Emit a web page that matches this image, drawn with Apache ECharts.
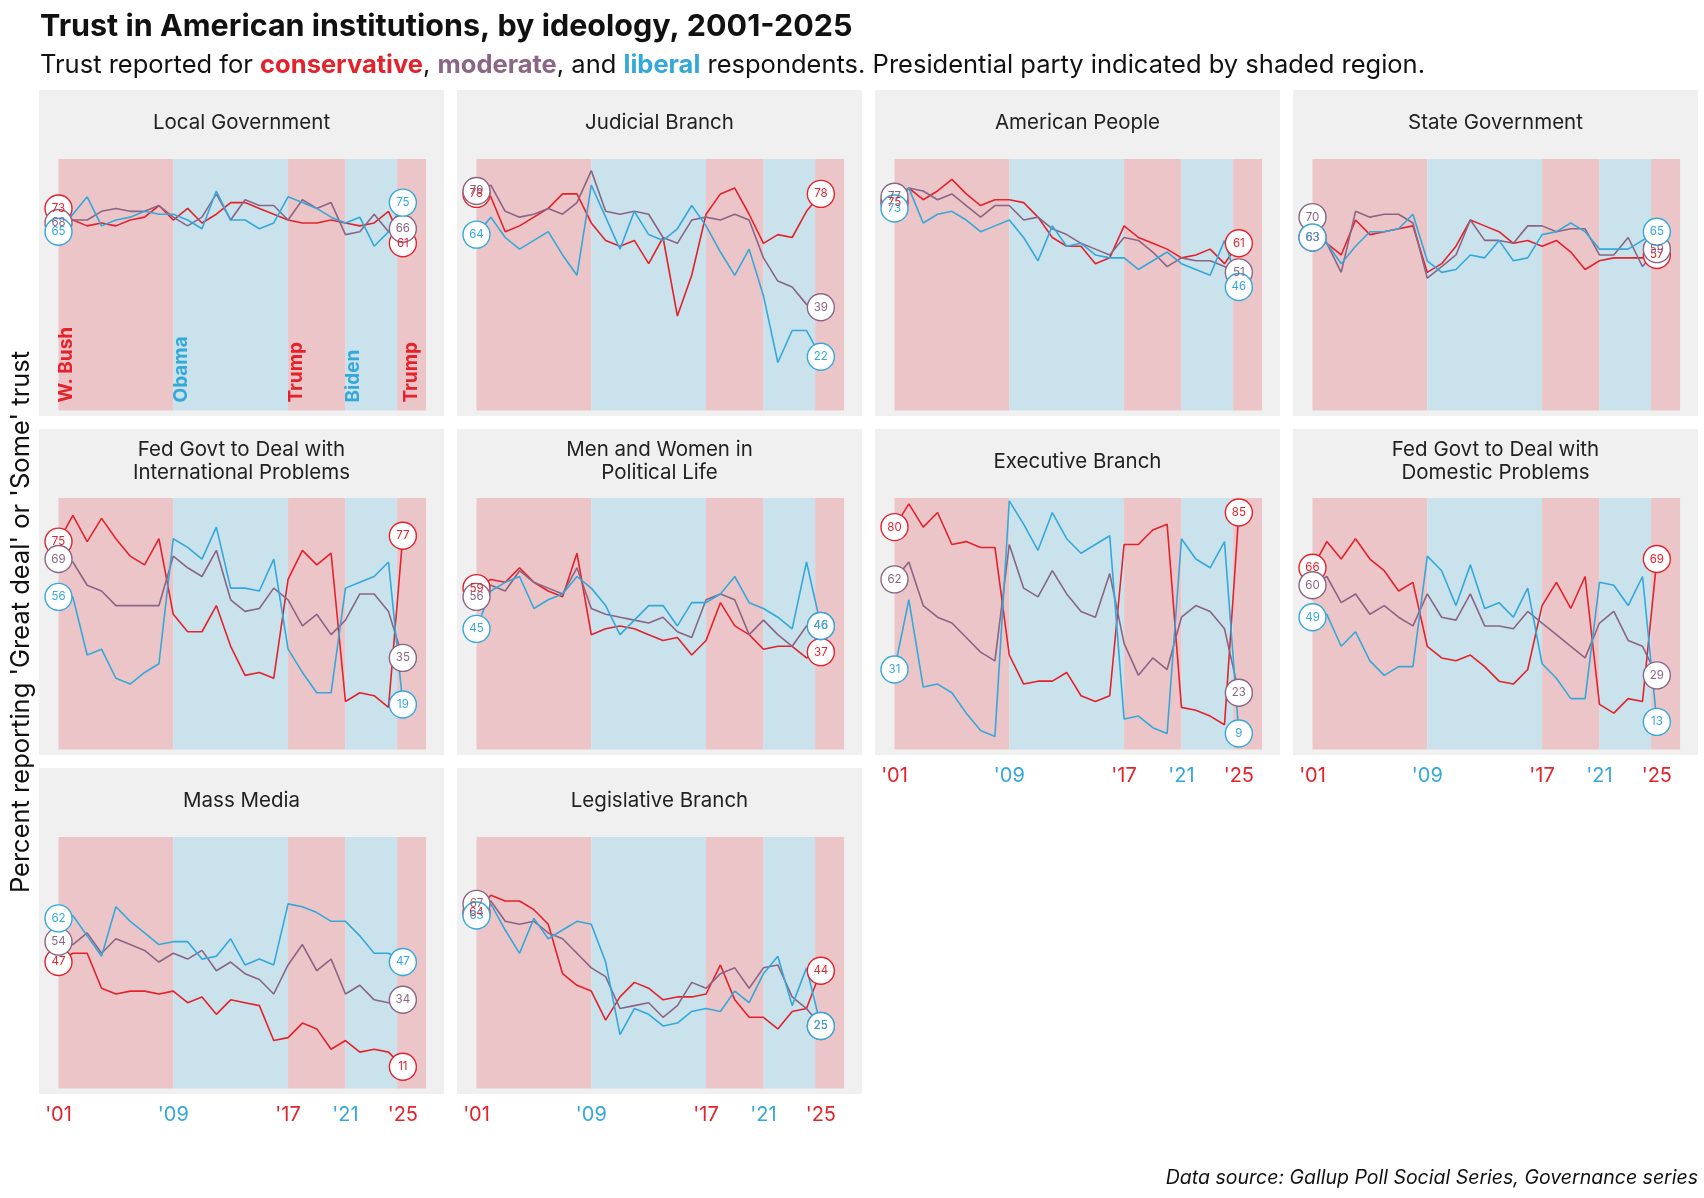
<!DOCTYPE html>
<html><head><meta charset="utf-8">
<script src="https://cdn.jsdelivr.net/npm/echarts@6/dist/echarts.min.js"></script>
<style>html,body{margin:0;padding:0;background:#fff}#c{width:1704px;height:1198px}</style>
</head><body><div id="c"></div>
<script>
// ---------- DATA ----------
const years = [2001,2002,2003,2004,2005,2006,2007,2008,2009,2010,2011,2012,2013,2014,2015,2016,2017,2018,2019,2020,2021,2022,2023,2024,2025];
const presidents = ['W. Bush','Obama','Trump','Biden','Trump'];
const presidentLabelYear = [2001,2009,2017,2021,2025];
const termStart = [2001,2009,2017,2021,2024.6];
const termEnd = [2009,2017,2021,2024.6,2026.62];
const termParty = ['R','D','R','D','R'];
const tickYears = [2001,2009,2017,2021,2025];
const tickLabels = ["'01","'09","'17","'21","'25"];
const tickParty = ['R','D','R','D','R'];

const localGov_con = [73,69,67,68,67,69,70,74,69,73,68,71,75,75,73,71,69,68,68,69,68,67,68,72,61];
const localGov_mod = [68,69,69,72,73,72,72,74,70,67,70,78,69,76,74,74,69,76,73,75,64,65,71,65,66];
const localGov_lib = [65,71,77,67,69,70,72,71,71,69,66,79,69,69,66,68,77,75,73,70,68,70,60,65,75];

const judicial_con = [78,77,65,67,70,73,78,78,68,62,60,62,54,63,36,50,71,78,80,71,61,64,63,72,78];
const judicial_mod = [79,81,72,70,71,73,71,75,86,72,71,72,71,63,61,69,70,69,71,69,56,48,46,40,39];
const judicial_lib = [64,70,63,59,62,65,57,50,81,70,59,72,64,62,66,74,67,58,50,59,43,20,31,31,22];

const people_con = [75,80,76,79,83,78,74,76,76,75,70,63,60,60,54,56,67,63,61,59,56,57,59,54,61];
const people_mod = [77,80,79,76,78,74,70,74,74,69,70,66,64,61,59,57,63,62,58,53,56,55,55,53,51];
const people_lib = [73,80,68,71,72,69,65,67,69,63,55,67,60,61,57,56,56,52,55,58,54,52,50,62,46];

const stateGov_con = [63,61,57,69,64,65,66,67,51,54,60,69,67,65,61,62,60,62,58,52,55,56,56,56,57];
const stateGov_mod = [70,61,51,72,70,71,71,68,49,53,57,69,62,62,61,67,67,65,66,66,57,57,63,53,59];
const stateGov_lib = [63,61,54,60,65,65,66,71,55,51,52,57,56,62,55,56,64,65,68,65,59,59,59,62,65];

const intl_con = [75,84,75,83,76,70,67,76,50,44,44,53,39,29,30,28,62,72,67,71,20,23,22,18,77];
const intl_mod = [69,68,60,58,53,53,53,53,70,66,63,72,55,51,52,59,55,46,50,43,48,57,57,51,35];
const intl_lib = [56,56,36,38,28,26,30,33,76,73,69,80,59,59,58,69,38,30,23,23,59,61,63,68,19];

const menWomen_con = [59,62,61,66,61,58,56,71,43,45,46,45,43,41,42,36,41,54,46,43,38,39,39,35,37];
const menWomen_mod = [56,60,58,65,61,59,57,66,52,50,49,48,47,49,44,42,55,57,55,43,48,43,39,46,46];
const menWomen_lib = [45,58,61,63,52,55,57,63,59,53,43,48,53,53,46,54,54,57,63,54,52,49,45,68,46];

const exec_con = [80,88,80,85,74,75,73,73,36,26,27,27,30,22,20,22,74,74,79,81,18,17,15,12,85];
const exec_mod = [62,68,53,49,47,42,37,34,74,59,56,65,57,51,49,64,40,29,35,31,49,53,51,45,23];
const exec_lib = [31,55,25,26,23,16,10,8,89,81,72,85,76,71,74,77,14,15,11,9,76,69,66,75,9];

const domestic_con = [66,75,69,76,69,65,58,61,39,35,34,36,32,27,26,31,53,61,52,63,19,16,21,20,69];
const domestic_mod = [60,63,54,57,50,53,49,46,57,49,48,57,46,46,45,51,47,43,39,35,47,51,41,39,29];
const domestic_lib = [49,50,39,44,34,29,32,32,70,65,53,67,52,54,49,59,33,28,21,21,61,60,53,63,13];

const media_con = [47,50,50,38,36,37,37,36,37,33,35,29,34,33,32,20,21,26,24,17,20,16,17,16,11];
const media_mod = [54,53,57,50,55,53,51,47,50,48,51,44,47,43,41,36,46,53,44,48,36,39,34,33,34];
const media_lib = [62,63,56,49,66,61,57,53,54,54,48,49,55,46,48,46,67,66,64,61,61,56,50,50,47];

const legis_con = [64,70,68,68,65,60,43,39,37,27,35,40,38,34,35,35,36,46,34,28,28,24,30,31,44];
const legis_mod = [67,68,61,60,61,57,55,50,45,42,31,32,33,28,32,40,38,43,45,38,45,46,35,31,25];
const legis_lib = [63,67,58,50,62,55,58,61,60,47,22,31,29,25,26,30,31,30,37,33,43,49,32,45,25];

const panelTitles = ['Local Government','Judicial Branch','American People','State Government',
  'Fed Govt to Deal with\nInternational Problems','Men and Women in\nPolitical Life','Executive Branch','Fed Govt to Deal with\nDomestic Problems',
  'Mass Media','Legislative Branch'];
const panelCon = [localGov_con,judicial_con,people_con,stateGov_con,intl_con,menWomen_con,exec_con,domestic_con,media_con,legis_con];
const panelMod = [localGov_mod,judicial_mod,people_mod,stateGov_mod,intl_mod,menWomen_mod,exec_mod,domestic_mod,media_mod,legis_mod];
const panelLib = [localGov_lib,judicial_lib,people_lib,stateGov_lib,intl_lib,menWomen_lib,exec_lib,domestic_lib,media_lib,legis_lib];
const bottomAxisPanels = [6,7,8,9];

// ---------- STYLE ----------
const FONT = 'Inter, Roboto, sans-serif';
const RED = '#e3222b', PURPLE = '#8a6585', BLUE = '#35a8da';
const SHADE_R = '#ecc5c8', SHADE_D = '#c9e2ec', PANEL_BG = '#f0f0f0';
const colLeft = [39, 457, 875, 1293];
const rowTop = [90, 429, 768];
const PW = 405, PH = 326;
const Y_MIN = 3.5, Y_MAX = 90, X_MIN = 2001, X_MAX = 2026.62;

const grids = [], xAxes = [], yAxes = [], series = [], titles = [], graphics = [];

titles.push({text:'Trust in American institutions, by ideology, 2001-2025', left:40, top:11, padding:0,
  textStyle:{fontFamily:FONT, fontWeight:'bold', fontSize:30.5, color:'#111'}});
titles.push({text:'Trust reported for {r|conservative}, {p|moderate}, and {b|liberal} respondents. Presidential party indicated by shaded region.',
  left:40, top:52, padding:0, textStyle:{fontFamily:FONT, fontSize:25.5, fontWeight:'normal', color:'#111',
  rich:{r:{color:RED,fontWeight:'bold',fontSize:25.5,fontFamily:FONT}, p:{color:PURPLE,fontWeight:'bold',fontSize:25.5,fontFamily:FONT}, b:{color:BLUE,fontWeight:'bold',fontSize:25.5,fontFamily:FONT}}}});
titles.push({text:'Data source: Gallup Poll Social Series, Governance series', right:6, top:1168, padding:0,
  textStyle:{fontFamily:FONT, fontStyle:'italic', fontSize:19.5, color:'#111', fontWeight:'normal'}});

graphics.push({type:'text', x:21, y:622, rotation:Math.PI/2, silent:true,
  style:{text:"Percent reporting 'Great deal' or 'Some' trust", font:'25.5px Inter, Roboto, sans-serif', fill:'#111', align:'center', verticalAlign:'middle'}});

const ideo = [
  {arr:panelCon, color:RED},
  {arr:panelMod, color:PURPLE},
  {arr:panelLib, color:BLUE}
];

panelTitles.forEach((t, i) => {
  const row = Math.floor(i/4), col = i%4;
  const pl = colLeft[col], pt = rowTop[row];
  graphics.push({type:'rect', shape:{x:pl, y:pt, width:PW, height:PH}, style:{fill:PANEL_BG}, z:-10, silent:true});
  const twoLine = t.indexOf('\n') >= 0;
  titles.push({text:t, left: pl + PW/2, top: pt + (twoLine ? 9 : 21), textAlign:'center', padding:0,
    textStyle:{fontFamily:FONT, fontSize:20.5, fontWeight:'normal', color:'#222', lineHeight:23}});
  grids.push({left: pl + 19.5, top: pt + 69, width: 367.6, height: 251.5});
  const bottom = bottomAxisPanels.indexOf(i) >= 0;
  xAxes.push({gridIndex:i, type:'value', min:X_MIN, max:X_MAX,
    axisLine:{show:false}, axisTick:{show:false}, splitLine:{show:false},
    axisLabel: bottom ? {show:true, customValues: tickYears, margin:16,
      formatter: v => { const k = tickYears.indexOf(v); return k < 0 ? '' : '{' + tickParty[k] + '|' + tickLabels[k] + '}'; },
      rich:{R:{color:RED, fontSize:20, fontFamily:FONT}, D:{color:BLUE, fontSize:20, fontFamily:FONT}}} : {show:false}});
  yAxes.push({gridIndex:i, type:'value', min:Y_MIN, max:Y_MAX, show:false});

  ideo.forEach((d, j) => {
    const vals = d.arr[i];
    const s = {type:'line', xAxisIndex:i, yAxisIndex:i, data: years.map((y,k)=>[y, vals[k]]),
      showSymbol:false, symbol:'none', lineStyle:{color:d.color, width:1.6}, itemStyle:{color:d.color},
      silent:true, clip:false, z:3, animation:false};
    if (j === 0) {
      s.markArea = {silent:true, z:1, data: termStart.map((st,k)=>[
        {xAxis: st, itemStyle:{color: termParty[k]==='R' ? SHADE_R : SHADE_D, opacity:1}},
        {xAxis: termEnd[k]}])};
    }
    series.push(s);
  });
  ideo.forEach((d) => {
    const vals = d.arr[i];
    series.push({type:'scatter', xAxisIndex:i, yAxisIndex:i, clip:false, silent:true, animation:false, z:5,
      data: [[years[0], vals[0]], [years[years.length-1], vals[vals.length-1]]],
      symbol:'circle', symbolSize:27,
      itemStyle:{color:'#fff', borderColor:d.color, borderWidth:1.4, opacity:1},
      label:{show:true, position:'inside', formatter: p => String(p.value[1]), color:d.color, fontSize:11.5, fontFamily:FONT}});
  });
});

// president labels in the first panel
series.push({type:'custom', xAxisIndex:0, yAxisIndex:0, silent:true, animation:false, z:4,
  data: presidentLabelYear.map((y,k)=>[y,k]),
  renderItem: (params, api) => {
    const k = api.value(1);
    const p = api.coord([api.value(0), Y_MIN]);
    return {type:'text', x: p[0] + 8, y: p[1] - 8, rotation: Math.PI/2,
      style:{text: presidents[k], fill: termParty[k]==='R' ? RED : BLUE, font:'bold 19px Inter, Roboto, sans-serif', align:'left', verticalAlign:'middle'}};
  }});

const chart = echarts.init(document.getElementById('c'), null, {renderer:'canvas'});
chart.setOption({animation:false, backgroundColor:'#fff', title:titles, grid:grids, xAxis:xAxes, yAxis:yAxes, series:series, graphic:{elements:graphics}});
</script></body></html>
